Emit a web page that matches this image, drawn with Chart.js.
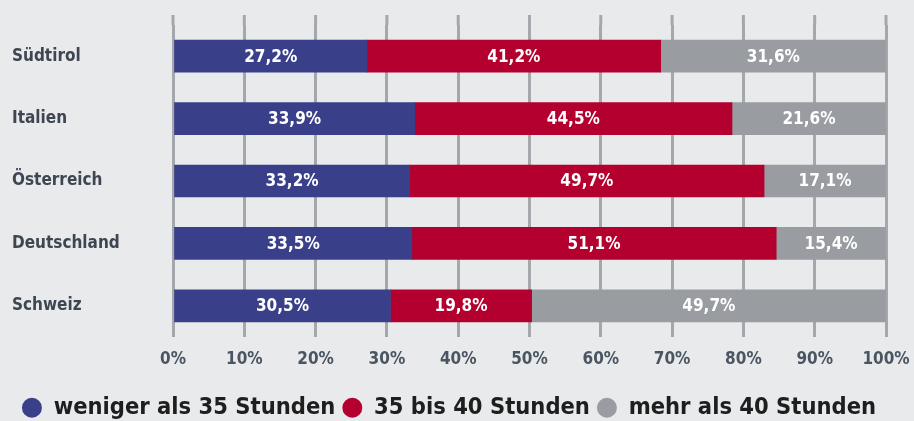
<!DOCTYPE html>
<html>
<head>
<meta charset="utf-8">
<script src="https://cdn.jsdelivr.net/npm/chart.js@4/dist/chart.umd.min.js"></script>
<style>
    html, body { margin: 0; padding: 0; background: #e8eaec; }
    #wrap { width: 914px; height: 421px; position: relative; }
</style>
</head>
<body>
<div id="wrap"><canvas id="stundenChart"></canvas></div>
<script>
// Wochenarbeitszeit nach Land (Anteile in %)
const countries = ['Südtirol', 'Italien', 'Österreich', 'Deutschland', 'Schweiz'];
const seriesNames = ['weniger als 35 Stunden', '35 bis 40 Stunden', 'mehr als 40 Stunden'];
const under35 = [27.2, 33.9, 33.2, 33.5, 30.5];
const from35to40 = [41.2, 44.5, 49.7, 51.1, 19.8];
const over40 = [31.6, 21.6, 17.1, 15.4, 49.7];
const xTicks = [0, 10, 20, 30, 40, 50, 60, 70, 80, 90, 100];

const FONT = '"DejaVu Sans Condensed", "Liberation Sans Narrow", "DejaVu Sans", sans-serif';
const colors = ['#3a3f8a', '#b4002f', '#999ca1'];

// white value labels inside each segment
const segmentLabels = {
    id: 'segmentLabels',
    afterDatasetsDraw(chart) {
        const ctx = chart.ctx;
        ctx.save();
        ctx.font = 'bold 17px ' + FONT;
        ctx.fillStyle = '#ffffff';
        ctx.textAlign = 'center';
        ctx.textBaseline = 'middle';
        chart.data.datasets.forEach((ds, i) => {
            chart.getDatasetMeta(i).data.forEach((bar, j) => {
                const p = bar.getCenterPoint();
                ctx.fillText(ds.data[j].toFixed(1).replace('.', ',') + '%', p.x, p.y + 1);
            });
        });
        ctx.restore();
    }
};

// grid lines reach a bit above the first bar
const gridTop = {
    id: 'gridTop',
    beforeDatasetsDraw(chart) {
        const x = chart.scales.x;
        const ctx = chart.ctx;
        ctx.save();
        ctx.strokeStyle = '#a4a7ab';
        ctx.lineWidth = 3;
        xTicks.forEach(v => {
            const px = x.getPixelForValue(v);
            ctx.beginPath();
            ctx.moveTo(px, chart.chartArea.top - 10);
            ctx.lineTo(px, chart.chartArea.top);
            ctx.stroke();
        });
        ctx.restore();
    }
};

const ctx = document.getElementById('stundenChart');
new Chart(ctx, {
    type: 'bar',
    data: {
        labels: countries,
        datasets: [{
            label: seriesNames[0],
            data: under35,
            backgroundColor: colors[0]
        }, {
            label: seriesNames[1],
            data: from35to40,
            backgroundColor: colors[1]
        }, {
            label: seriesNames[2],
            data: over40,
            backgroundColor: colors[2]
        }]
    },
    options: {
        indexAxis: 'y',
        responsive: true,
        maintainAspectRatio: false,
        animation: false,
        barThickness: 32,
        layout: {
            padding: { left: 12, right: 28, top: 25, bottom: 0 }
        },
        scales: {
            x: {
                stacked: true,
                min: 0,
                max: 100,
                afterBuildTicks: scale => {
                    scale.ticks = xTicks.map(v => ({ value: v }));
                },
                afterFit: scale => {
                    scale.height = 52;
                    scale.paddingLeft = 0;
                    scale.paddingRight = 0;
                },
                border: { display: false },
                grid: {
                    color: '#a4a7ab',
                    lineWidth: 3,
                    drawTicks: false
                },
                ticks: {
                    padding: 12,
                    color: '#4a5561',
                    font: { family: FONT, size: 17, weight: 'bold' },
                    callback: v => v + '%'
                }
            },
            y: {
                stacked: true,
                afterFit: scale => { scale.width = 161; },
                border: { display: false },
                grid: { display: false, drawTicks: false },
                ticks: {
                    crossAlign: 'far',
                    padding: 0,
                    color: '#3e4751',
                    font: { family: FONT, size: 17, weight: 'bold' }
                }
            }
        },
        plugins: {
            legend: {
                position: 'bottom',
                maxHeight: 32,
                labels: {
                    usePointStyle: true,
                    pointStyle: 'circle',
                    boxHeight: 14,
                    pointStyleWidth: 20,
                    padding: 7,
                    color: '#1e1e1e',
                    font: { family: FONT, size: 23.5, weight: 'bold' }
                }
            },
            tooltip: { enabled: false }
        }
    },
    plugins: [segmentLabels, gridTop]
});
</script>
</body>
</html>
